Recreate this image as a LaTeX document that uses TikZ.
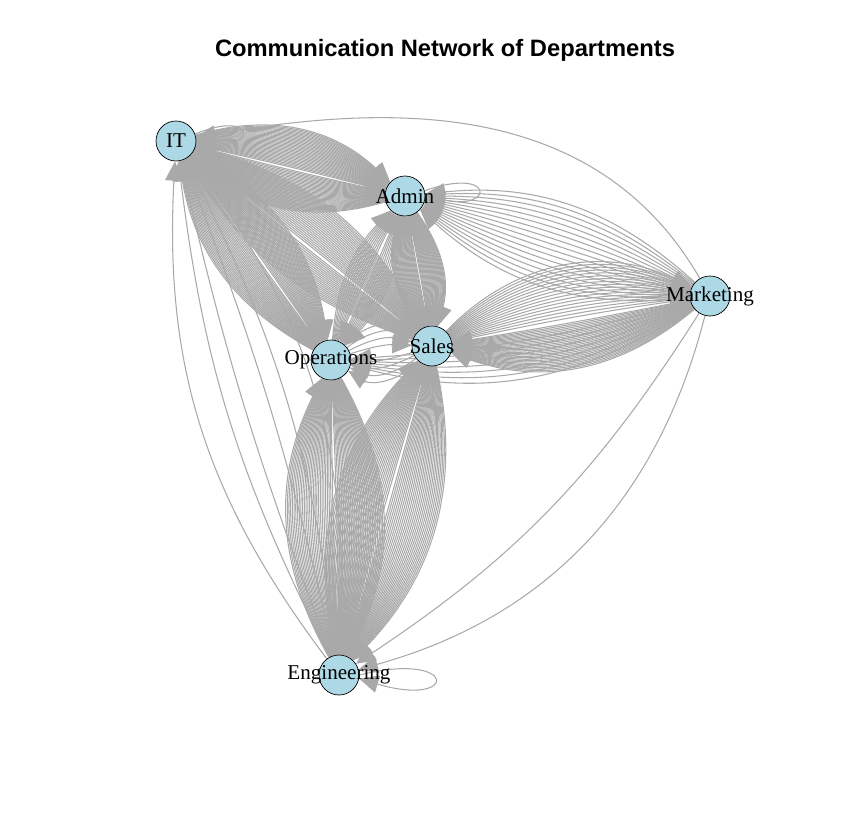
\documentclass[tikz,border=0pt]{standalone}
\usepackage{fontspec}
\setmainfont{Liberation Serif}
\newfontfamily\titlefont{Liberation Sans}
\usetikzlibrary{arrows.meta}
\definecolor{eg}{HTML}{A9A9A9}
\definecolor{lb}{HTML}{ADD8E6}
\tikzset{
 vtx/.style={circle,minimum size=0.8cm,inner sep=0pt},
 vdraw/.style={circle,draw=black,fill=lb,minimum size=0.8cm,inner sep=0pt},
 lbl/.style={font=\fontsize{12}{14}\selectfont,inner sep=0pt},
 edge/.style={draw=eg,line width=0.6pt,-{Triangle[length=11pt,width=10pt]}}
}
\newcommand\bund[3]{\foreach \bb in {#3} \draw[edge] (#1) to[bend left=\bb] (#2);}
\begin{document}
\begin{tikzpicture}[x=0.02cm,y=-0.02cm]
\useasboundingbox (0,0) rectangle (840,840);
\node[font=\titlefont\bfseries\fontsize{13.5}{16}\selectfont] (title) at (445,50) {Communication Network of Departments};
\node[vtx] (IT) at (176,141) {};
\node[vtx] (AD) at (405,196) {};
\node[vtx] (MK) at (710,296) {};
\node[vtx] (SA) at (432,346) {};
\node[vtx] (OP) at (331,360) {};
\node[vtx] (EN) at (339,675) {};
% bundles
\bund{IT}{AD}{1,2,...,30}
\bund{AD}{IT}{1,2,...,30}
\bund{IT}{OP}{1,2,...,26}
\bund{OP}{IT}{1,2,...,26}
\bund{IT}{SA}{1,2,...,24}
\bund{SA}{IT}{1,2,...,20}
\bund{EN}{IT}{-20,-10,-4,4,10,20}
\draw[edge] (MK) to[out=120,in=10] (IT);
\bund{MK}{AD}{-24,-21,...,24}
\bund{AD}{SA}{1,2,...,26}
\bund{SA}{AD}{1,2,...,26}
\bund{AD}{OP}{2,4,...,20}
\bund{OP}{AD}{2,4,...,20}
\bund{MK}{SA}{1,2,...,30}
\bund{SA}{MK}{2,4,...,36}
\bund{MK}{OP}{6,9,...,24}
\draw[edge] (MK) to[bend left=30] (EN);
\draw[edge] (MK) to[bend left=12] (EN);
\bund{OP}{EN}{1,2,...,28}
\bund{EN}{OP}{1,2,...,28}
\bund{SA}{EN}{1,2,...,28}
\bund{EN}{SA}{1,2,...,28}
\bund{OP}{SA}{10,20,30,40}
\bund{SA}{OP}{10,20,30,40}
% loops
\draw[edge] (IT.20) .. controls +(60,-25) and +(60,10) .. (IT.5);
\draw[edge] (AD.15) .. controls +(70,-25) and +(70,15) .. (AD.0);
\draw[edge] (EN.0) .. controls +(100,-25) and +(100,30) .. (EN.-10);
% visible nodes
\foreach \n/\t in {IT/IT,AD/Admin,MK/Marketing,SA/Sales,OP/Operations,EN/Engineering}{
 \node[vdraw] (v\n) at (\n) {};
 \node[lbl] (l\n) at (\n) {\t};
}
\end{tikzpicture}
\end{document}
